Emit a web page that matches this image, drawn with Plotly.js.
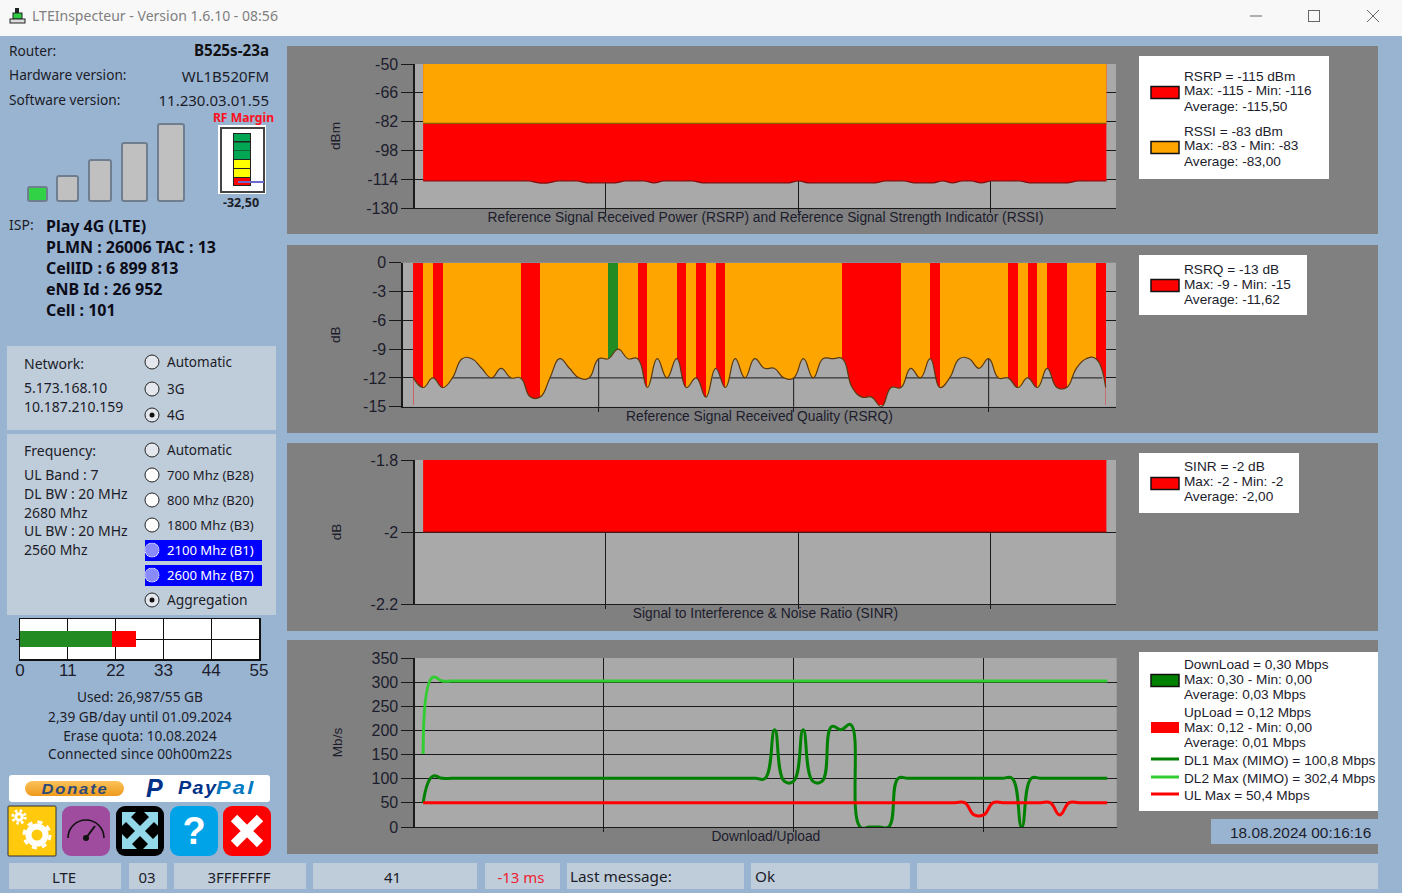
<!DOCTYPE html>
<html><head><meta charset="utf-8"><title>LTEInspecteur</title>
<script src="https://cdn.plot.ly/plotly-3.0.1.min.js"></script>
<style>
html,body{margin:0;padding:0;width:1402px;height:893px;overflow:hidden;background:#99b4d1;font-family:"Liberation Sans",Arial,sans-serif;}
#ui,#chart{position:absolute;left:0;top:0;width:1402px;height:893px;}
#chart{pointer-events:none;}
.box{position:absolute;box-sizing:border-box;}
.t{position:absolute;white-space:nowrap;transform:translateY(-50%);line-height:1;color:#1c1c28;}
.radio{position:absolute;box-sizing:border-box;width:15px;height:15px;border-radius:50%;border:1.5px solid #222;background:#e4e8ee;transform:translate(-50%,-50%);}
.radio.w{background:#fff;}
.radio.sel::after{content:"";position:absolute;left:3.5px;top:3.5px;width:5px;height:5px;border-radius:50%;background:#111;}
.radio.hl{background:#8a8aff;border:1.5px dotted #fff;}
</style></head><body>
<div id="ui"></div><div id="chart"></div>
<script>
// ---------- chart values ----------
const rsrp = [-115,-115,-115,-115,-115,-115,-115,-115,-115,-115,-115,-115,-116,-116,-115,-115,-115,-116,-116,-116,-116,-115,-115,-115,-116,-115,-115,-115,-115,-116,-116,-116,-116,-116,-116,-116,-116,-116,-116,-115,-116,-116,-116,-116,-116,-116,-116,-116,-115,-115,-115,-116,-116,-116,-115,-116,-115,-115,-116,-115,-115,-115,-115,-116,-116,-116,-116,-116,-115,-115,-115,-115];
const rssi = [-83,-83,-83,-83,-83,-83,-83,-83,-83,-83,-83,-83,-83,-83,-83,-83,-83,-83,-83,-83,-83,-83,-83,-83,-83,-83,-83,-83,-83,-83,-83,-83,-83,-83,-83,-83,-83,-83,-83,-83,-83,-83,-83,-83,-83,-83,-83,-83,-83,-83,-83,-83,-83,-83,-83,-83,-83,-83,-83,-83,-83,-83,-83,-83,-83,-83,-83,-83,-83,-83,-83,-83];
const rsrq = [-12,-13,-12,-13,-12,-10,-10,-11,-12,-11,-12,-12,-14,-14,-12,-10,-11,-12,-12,-10,-10,-9,-10,-10,-13,-10,-12,-10,-13,-12,-14,-11,-13,-10,-12,-10,-11,-11,-12,-12,-10,-12,-10,-10,-10,-13,-14,-14,-15,-13,-13,-11,-12,-10,-13,-12,-10,-10,-11,-10,-12,-12,-13,-12,-13,-11,-13,-13,-11,-10,-10,-13];
const sinr = [-2,-2,-2,-2,-2,-2,-2,-2,-2,-2,-2,-2,-2,-2,-2,-2,-2,-2,-2,-2,-2,-2,-2,-2,-2,-2,-2,-2,-2,-2,-2,-2,-2,-2,-2,-2,-2,-2,-2,-2,-2,-2,-2,-2,-2,-2,-2,-2,-2,-2,-2,-2,-2,-2,-2,-2,-2,-2,-2,-2,-2,-2,-2,-2,-2,-2,-2,-2,-2,-2,-2,-2];
const dl1 = [50.4,105,100.8,100.8,100.8,100.8,100.8,100.8,100.8,100.8,100.8,100.8,100.8,100.8,100.8,100.8,100.8,100.8,100.8,100.8,100.8,100.8,100.8,100.8,100.8,100.8,100.8,100.8,100.8,100.8,100.8,100.8,100.8,100.8,100.8,100.8,100.8,201.6,95,95,201.6,95,95,208,201.6,212,0,0,0,0,100.8,100.8,100.8,100.8,100.8,100.8,100.8,100.8,100.8,100.8,100.8,100.8,100.8,0,100.8,100.8,100.8,100.8,100.8,100.8,100.8,100.8,100.8];
const dl2 = [151,310,302.4,302.4,302.4,302.4,302.4,302.4,302.4,302.4,302.4,302.4,302.4,302.4,302.4,302.4,302.4,302.4,302.4,302.4,302.4,302.4,302.4,302.4,302.4,302.4,302.4,302.4,302.4,302.4,302.4,302.4,302.4,302.4,302.4,302.4,302.4,302.4,302.4,302.4,302.4,302.4,302.4,302.4,302.4,302.4,302.4,302.4,302.4,302.4,302.4,302.4,302.4,302.4,302.4,302.4,302.4,302.4,302.4,302.4,302.4,302.4,302.4,302.4,302.4,302.4,302.4,302.4,302.4,302.4,302.4,302.4,302.4];
const ul  = [50.4,50.4,50.4,50.4,50.4,50.4,50.4,50.4,50.4,50.4,50.4,50.4,50.4,50.4,50.4,50.4,50.4,50.4,50.4,50.4,50.4,50.4,50.4,50.4,50.4,50.4,50.4,50.4,50.4,50.4,50.4,50.4,50.4,50.4,50.4,50.4,50.4,50.4,50.4,50.4,50.4,50.4,50.4,50.4,50.4,50.4,50.4,50.4,50.4,50.4,50.4,50.4,50.4,50.4,50.4,50.4,50.4,50.4,25,25,50.4,50.4,50.4,50.4,50.4,50.4,50.4,25,50.4,50.4,50.4,50.4,50.4];
const quotaGreen = 21.2, quotaRed = 5.4;

const rsrpTicks = [-50,-66,-82,-98,-114,-130];
const rsrqTicks = [0,-3,-6,-9,-12,-15];
const sinrTicks = [-1.8,-2,-2.2];
const rateTicks = [0,50,100,150,200,250,300,350];
const quotaTicks = [0,11,22,33,44,55];
const sampleTicks = [20,40,60];
const titles = ["Reference Signal Received Power (RSRP) and Reference Signal Strength Indicator (RSSI)","Reference Signal Received Quality (RSRQ)","Signal to Interference & Noise Ratio (SINR)","Download/Upload"];
const legend1 = ["RSRP = -115 dBm","Max: -115 - Min: -116","Average: -115,50","RSSI = -83 dBm","Max: -83 - Min: -83","Average: -83,00"];
const legend2 = ["RSRQ = -13 dB","Max: -9 - Min: -15","Average: -11,62"];
const legend3 = ["SINR = -2 dB","Max: -2 - Min: -2","Average: -2,00"];
const legend4 = ["DownLoad = 0,30 Mbps","Max: 0,30 - Min: 0,00","Average: 0,03 Mbps","UpLoad = 0,12 Mbps","Max: 0,12 - Min: 0,00","Average: 0,01 Mbps","DL1 Max (MIMO) = 100,8 Mbps","DL2 Max (MIMO) = 302,4 Mbps","UL Max = 50,4 Mbps"];

// ---------- window chrome (plain HTML) ----------
const ui = document.getElementById('ui');
const UIFONT = '"Noto Sans","Liberation Sans",sans-serif', LIB='"Liberation Sans",sans-serif';
function box(x,y,w,h,bg,extra){const d=document.createElement('div');d.className='box';d.style.cssText+=`left:${x}px;top:${y}px;width:${w}px;height:${h}px;background:${bg};`+(extra||'');ui.appendChild(d);return d;}
function t(x,y,s,o){o=o||{};const d=document.createElement('div');d.className='t';d.textContent=s;
 d.style.fontFamily=o.font||UIFONT;d.style.fontSize=(o.size||14)+'px';d.style.top=y+'px';
 if(o.bold)d.style.fontWeight='bold'; if(o.color)d.style.color=o.color; if(o.ls)d.style.letterSpacing=o.ls+'px';
 if(o.italic)d.style.fontStyle='italic';
 const sx=o.sx?` scaleX(${o.sx})`:'';
 if(o.align==='right'){d.style.right=(1402-x)+'px';} else if(o.align==='center'){d.style.left=x+'px';d.style.transform='translate(-50%,-50%)'+sx;} else {d.style.left=x+'px';if(sx){d.style.transformOrigin='left center';d.style.transform='translateY(-50%)'+sx;}}
 ui.appendChild(d);return d;}
function radio(x,y,c){const d=document.createElement('div');d.className='radio '+(c||'');d.style.left=x+'px';d.style.top=y+'px';ui.appendChild(d);}
function svg(x,y,w,h,inner){const d=document.createElement('div');d.className='box';d.style.cssText+=`left:${x}px;top:${y}px;width:${w}px;height:${h}px;`;d.innerHTML=`<svg width="${w}" height="${h}" viewBox="0 0 ${w} ${h}" style="display:block">${inner}</svg>`;ui.appendChild(d);}

box(0,0,1402,36,'#f8f8f8');
svg(9,7,18,18,'<rect x="6" y="1" width="4" height="5" fill="#222"/><rect x="4" y="6" width="9" height="6" fill="#2ecc40" stroke="#222"/><rect x="1" y="12" width="15" height="4" fill="#ddd" stroke="#222"/>');
t(32,16,'LTEInspecteur - Version 1.6.10 - 08:56',{size:14.05,color:'#7f7f7f'});
svg(1248,10,16,12,'<line x1="2" y1="6" x2="14" y2="6" stroke="#666"/>');
svg(1307,9,14,14,'<rect x="1.5" y="1.5" width="11" height="11" fill="none" stroke="#666"/>');
svg(1366,9,14,14,'<path d="M1 1L13 13M13 1L1 13" stroke="#666"/>');

[[46,188],[245,188],[443,188],[640,214]].forEach(p=>box(287,p[0],1091,p[1],'#808080'));

t(9,51,'Router:',{size:13.7});t(269,51,'B525s-23a',{size:15.2,bold:true,align:'right',color:'#111'});
t(9,75,'Hardware version:',{size:13.7});t(269,76,'WL1B520FM',{size:15,align:'right'});
t(9,100,'Software version:',{size:13.7});t(269,100,'11.230.03.01.55',{size:15,align:'right'});

[[27,186,21,16,'#32d246'],[56,175,23,27,'#c0c0c0'],[88,159,24,43,'#c0c0c0'],[121,142,27,60,'#c0c0c0'],[157,123,28,79,'#c0c0c0']].forEach(b=>box(b[0],b[1],b[2],b[3],b[4],'border:2px solid #6f7f90;border-radius:3px;'));

t(243.5,118,'RF Margin',{size:12.2,bold:true,color:'#ff1020',align:'center'});
box(218,125,48,69,'#fff');box(219.5,127,45,66,'#fff','border:2px solid #444;');
svg(232,132,34,56,'<rect x="1" y="1" width="18" height="53" fill="#222"/>'+
 [[2,7,'#00a651'],[10.5,8,'#00a651'],[19,8,'#00a651'],[28,8,'#ffff00'],[37,8,'#ffff00'],[46,7,'#ff0000']].map(r=>`<rect x="2" y="${r[0]}" width="16" height="${r[1]}" fill="${r[2]}"/>`).join('')+
 '<line x1="6" y1="50" x2="32" y2="50" stroke="#6a6ad0" stroke-width="2"/>');
t(241,203,'-32,50',{size:12.5,bold:true,align:'center'});

t(9,225,'ISP:',{size:14});
[['Play 4G (LTE)',226],['PLMN : 26006 TAC : 13',247],['CellID : 6 899 813',268],['eNB Id : 26 952',289],['Cell : 101',310]].forEach(l=>t(46,l[1],l[0],{size:16,bold:true,color:'#0c0c18'}));

box(7,346,269,84,'#bfcddb');box(7,434,269,181,'#bfcddb');
t(24,364,'Network:',{size:14});t(24,388,'5.173.168.10',{size:14});t(24,407,'10.187.210.159',{size:14});
[['Automatic',362,''],['3G',389,''],['4G',415,'sel']].forEach(r=>{radio(152,r[1],r[2]);t(167,r[1]+1,r[0],{size:13.5});});

t(24,451,'Frequency:',{size:14});
[['UL Band : 7',475],['DL BW : 20 MHz',494],['2680 Mhz',513],['UL BW : 20 MHz',531],['2560 Mhz',550]].forEach(l=>t(24,l[1],l[0],{size:14}));
box(145,540,117,21,'#0000ff');box(145,565,117,21,'#0000ff');
[['Automatic',450,'',0,13.5],['700 Mhz (B28)',475,'w',0,13.1],['800 Mhz (B20)',500,'w',0,13.1],['1800 Mhz (B3)',525,'w',0,13.1],['2100 Mhz (B1)',550,'hl',1,13.1],['2600 Mhz (B7)',575,'hl',1,13.1],['Aggregation',600,'sel',0,13.8]].forEach(r=>{radio(152,r[1],r[2]);t(167,r[1]+(r[0]==='Aggregation'?0:1),r[0],{size:r[4],color:r[3]?'#fff':'#1c1c28'});});

[['Used: 26,987/55 GB',697],['2,39 GB/day until 01.09.2024',717],['Erase quota: 10.08.2024',736],['Connected since 00h00m22s',754]].forEach(l=>t(140,l[1],l[0],{size:13.7,align:'center'}));

box(9,775,261,27,'#fff','border-radius:3px;');
box(25,781,99,15,'linear-gradient(#fbc25a,#ee9a1c)','border-radius:8px;');
t(75,789,'Donate',{size:14.5,bold:true,italic:true,color:'#2c4a7a',align:'center',font:LIB,ls:1.6,sx:1.14});
t(146,788,'P',{size:25,bold:true,italic:true,color:'#003087',font:LIB});
t(178,789,'Pay',{size:17.5,bold:true,italic:true,color:'#003087',font:LIB,ls:1.2,sx:1.13});
t(216,789,'Pal',{size:17.5,bold:true,italic:true,color:'#0079c1',font:LIB,ls:1.8,sx:1.25});

function gear(cx,cy,r,w){return `<circle cx="${cx}" cy="${cy}" r="${r}" fill="none" stroke="#fff" stroke-width="${w}"/><circle cx="${cx}" cy="${cy}" r="${r+w/2+1.5}" fill="none" stroke="#fff" stroke-width="3" stroke-dasharray="${(r+w/2+1.5)*6.283/16} ${(r+w/2+1.5)*6.283/16}"/>`;}
svg(7,805,50,52,'<rect x="1" y="1" width="48" height="50" fill="#ffc90e" stroke="#333" rx="1"/>'+gear(30,30,8.5,6)+gear(12,12,3.2,3));
svg(62,806,48,50,'<rect width="48" height="50" rx="9" fill="#9f4c9f"/><path d="M6 32A18 18 0 0 1 42 32" fill="none" stroke="#111" stroke-width="1.6"/><path d="M24 32L33 20" stroke="#111" stroke-width="2"/><circle cx="24" cy="32" r="3" fill="#111"/>');
svg(116,806,48,50,'<rect width="48" height="50" rx="9" fill="#000"/>'+
 '<g fill="#93d8e8"><path d="M6 6H20L15 11L37 33L42 28V43H27L32 38L10 16L6 20Z"/><path d="M42 6H28L33 11L11 33L6 28V43H21L16 38L38 16L42 20Z"/></g>');
svg(170,806,48,50,'<rect width="48" height="50" rx="9" fill="#00a2e8"/>');
t(194,831,'?',{size:38,bold:true,color:'#fff',align:'center',font:LIB});
svg(223,806,48,50,'<rect width="48" height="50" rx="9" fill="#ff0000"/><path d="M11 12L37 38M37 12L11 38" stroke="#fff" stroke-width="9"/>');

[[9,112,'LTE',64],[129,38,'03',147],[174,132,'3FFFFFFF',239],[313,164,'41',392.5],[485,75,'-13 ms',521,'#f02030']].forEach(c=>{box(c[0],863,c[1],26,'#bfcddb');t(c[3],877,c[2],{size:15,align:'center',color:c[4]||'#1c1c28'});});
box(567,863,177,26,'#bfcddb');t(570,877,'Last message:',{size:15.3});
box(751,863,159,26,'#bfcddb');t(755,877,'Ok',{size:15.3});
box(917,863,461,26,'#bfcddb');

// ---------- Plotly figure ----------
const W=1402,H=893,PF='"Liberation Sans",Arial,sans-serif',TXT='#1c1c2c',GRID='#1a1a1a';
const dx=(a,b)=>[a/W,b/W], dy=(top,bot)=>[1-bot/H,1-top/H];
const idx=a=>a.map((_,i)=>i+1);
function xax(dom,range,anchor,title){return {domain:dx(dom[0],dom[1]),range:range,anchor:anchor,tickmode:'array',tickvals:sampleTicks,showticklabels:false,ticks:'outside',ticklen:4,tickcolor:GRID,showgrid:true,gridcolor:GRID,gridwidth:1,zeroline:false,showline:true,linecolor:GRID,linewidth:1.3,layer:'above traces',
  title:{text:title,font:{family:PF,size:13.8,color:TXT},standoff:0},fixedrange:true};}
function yax(dom,range,anchor,ticks,title,standoff){return {domain:dy(dom[0],dom[1]),range:range,anchor:anchor,tickmode:'array',tickvals:ticks,ticktext:ticks.map(String),ticks:'outside',ticklen:12,tickcolor:GRID,tickfont:{family:PF,size:16,color:TXT},showgrid:true,gridcolor:GRID,gridwidth:1,zeroline:false,showline:true,linecolor:GRID,linewidth:1.6,layer:'above traces',
  title:{text:title,font:{family:PF,size:13.6,color:TXT},standoff:standoff},fixedrange:true};}

const SMOOTH=1.3;
const outline=c=>({color:c,width:1.2,shape:'spline',smoothing:SMOOTH});
const traces=[];
// RSRP / RSSI
traces.push({type:'scatter',mode:'lines',x:idx(rsrp),y:rsrp,xaxis:'x',yaxis:'y',fill:'tozeroy',fillcolor:'#ff0000',line:outline('#7a1010')});
traces.push({type:'scatter',mode:'lines',x:idx(rssi),y:rssi,xaxis:'x',yaxis:'y',fill:'tozeroy',fillcolor:'#ffa500',line:outline('#8a5a00')});

// RSRQ: per-interval colour bands, then the part under the curve goes back to the plot colour
const rsrqFloor=-15,bandFloor=-14.85,PLOTBG='#a9a9a9';
const bandColor=v=>v<=-13?'#ff0000':(v>=-9?'#228b22':'#ffa500');
const bandX=rsrq.slice(1).map((_,i)=>i+1.5), bandC=rsrq.slice(1).map(bandColor);
traces.push({type:'bar',x:bandX,y:bandX.map(()=>bandFloor),base:0,width:1,marker:{color:bandC,line:{width:0}},xaxis:'x2',yaxis:'y2'});
traces.push({type:'scatter',mode:'lines',x:idx(rsrq),y:rsrq.map(()=>rsrqFloor),line:{width:0},xaxis:'x2',yaxis:'y2'});
// the -12 grid line and the vertical grid lines, only where they lie under the curve
function levelPieces(level){const xs=[],ys=[];rsrq.forEach((v,i)=>{
  const above=v>level; if(i>0){const p=rsrq[i-1],pa=p>level;
    if(above!==pa){const c=i+(level-p)/(v-p);xs.push(c);ys.push(level);if(pa){xs.push(null);ys.push(null);}}}
  if(above){xs.push(i+1);ys.push(level);}});return {xs,ys};}
traces.push({type:'scatter',mode:'lines',x:idx(rsrq),y:rsrq,xaxis:'x2',yaxis:'y2',fill:'tonexty',fillcolor:PLOTBG,line:{width:0,shape:'spline',smoothing:SMOOTH}});
const lv=levelPieces(-12);
traces.push({type:'scatter',mode:'lines',x:lv.xs,y:lv.ys,xaxis:'x2',yaxis:'y2',line:{color:GRID,width:1}});
sampleTicks.forEach(k=>traces.push({type:'scatter',mode:'lines',x:[k,k],y:[rsrqFloor,rsrq[k-1]],xaxis:'x2',yaxis:'y2',line:{color:GRID,width:1}}));
traces.push({type:'scatter',mode:'lines',x:idx(rsrq),y:rsrq,xaxis:'x2',yaxis:'y2',line:outline('#5a3a10')});

// SINR
traces.push({type:'scatter',mode:'lines',x:idx(sinr),y:sinr,xaxis:'x3',yaxis:'y3',fill:'tozeroy',fillcolor:'#ff0000',line:outline('#7a1010')});

// Rates
const rateLine=c=>({color:c,width:3,shape:'spline',smoothing:SMOOTH});
traces.push({type:'scatter',mode:'lines',x:idx(dl2),y:dl2,xaxis:'x4',yaxis:'y4',line:rateLine('#32cd32')});
traces.push({type:'scatter',mode:'lines',x:idx(dl1),y:dl1,xaxis:'x4',yaxis:'y4',line:rateLine('#008000')});
traces.push({type:'scatter',mode:'lines',x:idx(ul),y:ul,xaxis:'x4',yaxis:'y4',line:rateLine('#ff0000')});

// Quota
traces.push({type:'bar',orientation:'h',y:[0],x:[quotaGreen],base:0,width:0.8,marker:{color:'#228b22',line:{width:0}},xaxis:'x5',yaxis:'y5'});
traces.push({type:'bar',orientation:'h',y:[0],x:[quotaRed],base:quotaGreen,width:0.8,marker:{color:'#ff0000',line:{width:0}},xaxis:'x5',yaxis:'y5'});

const shapes=[],anns=[];
const rectPx=(x0,y0,x1,y1,fill,line,layer)=>shapes.push({type:'rect',xref:'paper',yref:'paper',x0:x0/W,x1:x1/W,y0:1-y0/H,y1:1-y1/H,fillcolor:fill,line:line?{color:line,width:1.5}:{width:0},layer:layer||'above'});
const linePx=(x0,x1,y,c)=>shapes.push({type:'line',xref:'paper',yref:'paper',x0:x0/W,x1:x1/W,y0:1-y/H,y1:1-y/H,line:{color:c,width:3},layer:'above'});
const txt=(x,y,s,size,color)=>anns.push({xref:'paper',yref:'paper',x:x/W,y:1-y/H,text:s,showarrow:false,xanchor:'left',yanchor:'middle',borderpad:0,font:{family:PF,size:size||13.65,color:color||TXT}});
rectPx(20,619,259,659,'#ffffff',null,'below');
rectPx(1139,56,1329,179,'#ffffff');rectPx(1139,255,1307,315,'#ffffff');rectPx(1139,453,1299,513,'#ffffff');rectPx(1139,652,1378,811,'#ffffff');
rectPx(1151,86.5,1179,98.5,'#ff0000','#111');rectPx(1151,141.5,1179,153.5,'#ffa500','#111');
rectPx(1151,279.5,1179,291.5,'#ff0000','#111');rectPx(1151,477.5,1179,489.5,'#ff0000','#111');
rectPx(1151,674.5,1179,686.5,'#008000','#111');rectPx(1151,722,1179,733,'#ff0000');
linePx(1151,1179,759,'#008000');linePx(1151,1179,777,'#32cd32');linePx(1151,1179,794,'#ff0000');
legend1.forEach((s,i)=>txt(1182.5,[76,91,106,131,146,161][i],s));
legend2.forEach((s,i)=>txt(1182.5,[269,284,299][i],s));
legend3.forEach((s,i)=>txt(1182.5,[466.5,481.5,496.5][i],s));
legend4.forEach((s,i)=>txt(1182.5,[664,679,694,712,727,742,760,778,795][i],s));
rectPx(1211,819,1378,844,'#99b4d1');
txt(1228.5,832,'18.08.2024 00:16:16',15.4);

const layout={width:W,height:H,margin:{l:0,r:0,t:0,b:0,pad:0},paper_bgcolor:'rgba(0,0,0,0)',plot_bgcolor:PLOTBG,showlegend:false,barmode:'overlay',bargap:0,shapes:shapes,annotations:anns,hovermode:false,
 xaxis:xax([415,1116],[0.156,73],'y',titles[0]),
 yaxis:yax([64,208],[-130,-50],'x',rsrpTicks,'dBm',22),
 xaxis2:xax([403,1116],[-0.07,73.06],'y2',titles[1]),
 yaxis2:yax([262.7,406.7],[-15,0],'x2',rsrqTicks,'dB',19),
 xaxis3:xax([415,1116],[0.156,73],'y3',titles[2]),
 yaxis3:yax([460,604],[-2.2,-1.8],'x3',sinrTicks,'dB',26),
 xaxis4:xax([415,1116.7],[0.14,74],'y4',titles[3]),
 yaxis4:yax([658,827],[0,350],'x4',rateTicks,'Mb/s',26),
 xaxis5:{domain:dx(20,259),range:[0,55],anchor:'y5',tickmode:'array',tickvals:quotaTicks,ticktext:quotaTicks.map(String),ticks:'',ticklabelstandoff:-5,tickfont:{family:PF,size:17,color:TXT},showgrid:true,gridcolor:'#111',gridwidth:1,zeroline:false,showline:true,linecolor:'#111',linewidth:1.5,mirror:true,layer:'above traces',fixedrange:true},
 yaxis5:{domain:dy(619,659),range:[-1,1],anchor:'x5',tickmode:'array',tickvals:[0],showticklabels:false,ticks:'outside',ticklen:3,tickcolor:'#111',showgrid:true,gridcolor:'#111',gridwidth:1,zeroline:true,zerolinecolor:'#111',zerolinewidth:1,showline:true,linecolor:'#111',linewidth:1.5,mirror:true,fixedrange:true}
};
Plotly.newPlot('chart',traces,layout,{staticPlot:true,displayModeBar:false});
</script></body></html>
